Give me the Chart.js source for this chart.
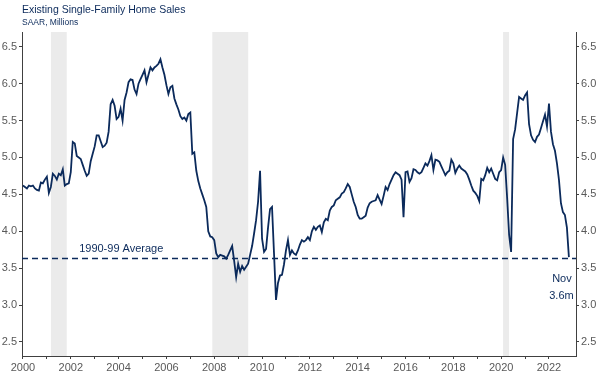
<!DOCTYPE html>
<html>
<head>
<meta charset="utf-8">
<script src="https://cdn.jsdelivr.net/npm/chart.js@4/dist/chart.umd.min.js"></script>
<style>
  html, body { margin: 0; padding: 0; background: #fff; }
  #wrap { width: 600px; height: 375px; position: relative; }
</style>
</head>
<body>
<div id="wrap"><canvas id="chart"></canvas></div>
<script>
// ---- Data (SAAR, millions; monthly from Jan 2000 to Nov 2022) ----
const startYear = 2000;
const sales = [
  // 2000
  4.62, 4.60, 4.58, 4.62, 4.61, 4.62, 4.58, 4.56, 4.55, 4.66, 4.65, 4.70,
  // 2001
  4.74, 4.52, 4.60, 4.78, 4.75, 4.70, 4.78, 4.76, 4.84, 4.62, 4.64, 4.65,
  // 2002
  4.80, 5.21, 5.19, 5.02, 5.00, 4.98, 4.90, 4.82, 4.75, 4.78, 4.95, 5.05,
  // 2003
  5.15, 5.30, 5.30, 5.22, 5.14, 5.16, 5.20, 5.35, 5.72, 5.78, 5.70, 5.52,
  // 2004
  5.55, 5.66, 5.50, 5.78, 5.88, 6.02, 6.06, 6.05, 5.92, 5.86, 6.00, 6.06,
  // 2005
  6.12, 6.18, 6.02, 6.12, 6.22, 6.18, 6.22, 6.24, 6.27, 6.33, 6.22, 6.12,
  // 2006
  5.98, 5.86, 5.95, 5.97, 5.80, 5.72, 5.65, 5.56, 5.52, 5.54, 5.50, 5.59,
  // 2007
  5.61, 5.05, 5.07, 4.82, 4.68, 4.58, 4.50, 4.42, 4.33, 4.00, 3.93, 3.92,
  // 2008
  3.88, 3.70, 3.65, 3.68, 3.67, 3.66, 3.63, 3.68, 3.74, 3.80, 3.60, 3.38,
  // 2009
  3.56, 3.45, 3.53, 3.48, 3.52, 3.56, 3.68, 3.80, 3.97, 4.15, 4.40, 4.82,
  // 2010
  3.90, 3.72, 3.76, 4.05, 4.30, 4.33, 3.70, 3.07, 3.30, 3.40, 3.41, 3.55,
  // 2011
  3.74, 3.88, 3.68, 3.74, 3.70, 3.68, 3.74, 3.82, 3.88, 3.86, 3.88, 3.92,
  // 2012
  3.88, 4.00, 4.06, 4.02, 4.06, 4.08, 3.99, 4.12, 4.17, 4.15, 4.28, 4.33,
  // 2013
  4.35, 4.42, 4.44, 4.46, 4.51, 4.53, 4.58, 4.64, 4.60, 4.50, 4.40, 4.33,
  // 2014
  4.22, 4.17, 4.17, 4.19, 4.21, 4.32, 4.38, 4.40, 4.41, 4.42, 4.49, 4.43,
  // 2015
  4.37, 4.48, 4.60, 4.56, 4.64, 4.70, 4.76, 4.80, 4.78, 4.76, 4.70, 4.19,
  // 2016
  4.80, 4.81, 4.67, 4.72, 4.84, 4.83, 4.80, 4.78, 4.80, 4.86, 4.92, 4.89,
  // 2017
  4.95, 5.03, 4.83, 4.97, 4.96, 4.94, 4.88, 4.82, 4.76, 4.80, 4.82, 4.97,
  // 2018
  4.92, 4.79, 4.85, 4.89, 4.85, 4.83, 4.81, 4.77, 4.70, 4.62, 4.55, 4.52,
  // 2019
  4.48, 4.41, 4.71, 4.69, 4.76, 4.86, 4.80, 4.85, 4.78, 4.71, 4.69, 4.80,
  // 2020
  4.83, 5.00, 4.90, 4.45, 3.95, 3.72, 5.25, 5.38, 5.60, 5.82, 5.80, 5.78,
  // 2021
  5.84, 5.88, 5.45, 5.30, 5.24, 5.21, 5.28, 5.31, 5.40, 5.49, 5.58, 5.42,
  // 2022
  5.73, 5.35, 5.18, 5.09, 4.92, 4.70, 4.38, 4.26, 4.22, 4.05, 3.65
];
const average9099 = 3.63;
const recessionStart = [2001.17, 2007.92, 2020.08];
const recessionEnd = [2001.83, 2009.42, 2020.33];
const yTicks = [2.5, 3.0, 3.5, 4.0, 4.5, 5.0, 5.5, 6.0, 6.5];
const xTicks = [2000, 2001, 2002, 2003, 2004, 2005, 2006, 2007, 2008, 2009, 2010, 2011,
  2012, 2013, 2014, 2015, 2016, 2017, 2018, 2019, 2020, 2021, 2022];
const xMin = 1999.96, xMax = 2023.13;
const yMin = 2.31, yMax = 6.70;

const NAVY = "#0b2a5b";
const TICK = "#595959";
const FONT = "'Liberation Sans', Arial, sans-serif";

const salesPoints = sales.map((v, i) => ({ x: startYear + i / 12, y: v }));
const avgPoints = [{ x: xMin, y: average9099 }, { x: xMax, y: average9099 }];

// ---- Plugins: recession shading and text notes ----
const recessionShade = {
  id: "recessionShade",
  beforeDatasetsDraw(chart) {
    const { ctx, chartArea, scales } = chart;
    ctx.save();
    ctx.fillStyle = "#ebebeb";
    recessionStart.forEach((s, k) => {
      const x0 = scales.x.getPixelForValue(s);
      const x1 = scales.x.getPixelForValue(recessionEnd[k]);
      ctx.fillRect(x0, chartArea.top, x1 - x0, chartArea.bottom - chartArea.top);
    });
    ctx.restore();
  }
};

const notes = {
  id: "notes",
  afterDraw(chart) {
    const { ctx, scales } = chart;
    ctx.save();
    ctx.fillStyle = NAVY;
    ctx.textBaseline = "middle";
    ctx.textAlign = "left";
    ctx.font = "10.5px " + FONT;
    ctx.fillText("Existing Single-Family Home Sales", 22, 10);
    ctx.font = "8.5px " + FONT;
    ctx.fillText("SAAR, Millions", 22, 23);

    ctx.font = "11px " + FONT;
    ctx.fillText("1990-99 Average", scales.x.getPixelForValue(2002.35), scales.y.getPixelForValue(average9099) - 10);
    ctx.textAlign = "right";
    const xEnd = scales.x.getPixelForValue(2022.95);
    ctx.fillText("Nov", xEnd, scales.y.getPixelForValue(3.35));
    ctx.fillText("3.6m", xEnd + 2, scales.y.getPixelForValue(3.12));
    ctx.restore();
  }
};

function fixTicks(values) {
  return scale => { scale.ticks = values.map(v => ({ value: v })); };
}

const yAxisBase = {
  type: "linear",
  min: yMin,
  max: yMax,
  afterBuildTicks: fixTicks(yTicks),
  grid: { drawOnChartArea: false, drawTicks: true, tickLength: 3, color: "#404040" },
  border: { display: true, color: "#404040", width: 1 },
  ticks: {
    padding: 2,
    color: TICK,
    font: { family: FONT, size: 11 },
    callback: v => v.toFixed(1)
  }
};

new Chart(document.getElementById("chart"), {
  type: "line",
  data: {
    datasets: [
      {
        label: "Existing single-family home sales",
        data: salesPoints,
        borderColor: NAVY,
        borderWidth: 1.8,
        pointRadius: 0,
        tension: 0,
        fill: false
      },
      {
        label: "1990-99 Average",
        data: avgPoints,
        borderColor: NAVY,
        borderWidth: 1.5,
        borderDash: [6, 4],
        pointRadius: 0,
        fill: false
      }
    ]
  },
  options: {
    responsive: true,
    maintainAspectRatio: false,
    animation: false,
    layout: { padding: { top: 32, left: 0, right: 0, bottom: 0 } },
    plugins: {
      legend: { display: false },
      tooltip: { enabled: false }
    },
    scales: {
      x: {
        type: "linear",
        min: xMin,
        max: xMax,
        afterBuildTicks: fixTicks(xTicks),
        afterFit: s => { s.height = 19; },
        grid: { drawOnChartArea: false, drawTicks: true, tickLength: 3, color: "#404040" },
        border: { display: true, color: "#404040", width: 1 },
        ticks: {
          padding: 2,
          color: TICK,
          maxRotation: 0,
          autoSkip: false,
          font: { family: FONT, size: 11 },
          callback: v => (v % 2 === 0 ? String(v) : "")
        }
      },
      y: { ...yAxisBase, position: "left", afterFit: s => { s.width = 22; } },
      y2: { ...yAxisBase, position: "right", afterFit: s => { s.width = 24; } }
    }
  },
  plugins: [recessionShade, notes]
});
</script>
</body>
</html>
